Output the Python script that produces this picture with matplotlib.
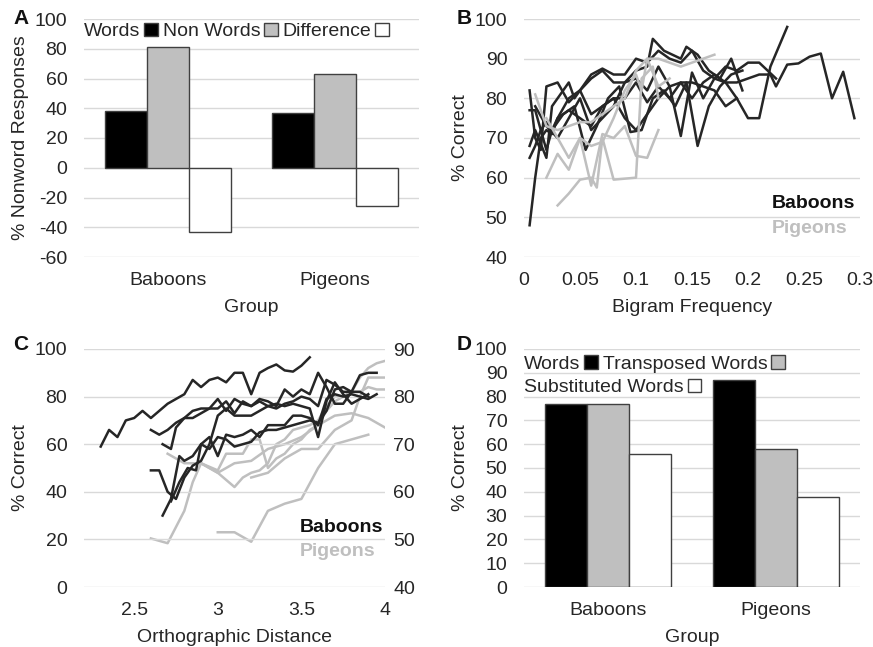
import matplotlib
matplotlib.use("Agg")
import matplotlib.pyplot as plt
from matplotlib.patches import Patch

plt.rcParams['font.family'] = ['Liberation Sans', 'DejaVu Sans']
plt.rcParams['font.size'] = 14
plt.rcParams['axes.unicode_minus'] = False

# --- data ---
groups = ['Baboons', 'Pigeons']

# panel A
a_series = ['Words', 'Non Words', 'Difference']
a_values = [[38, 37], [81, 63], [-43, -26]]

# panel D
d_series = ['Words', 'Transposed Words', 'Substituted Words']
d_values = [[77, 87], [77, 58], [56, 38]]

# panel B: bigram frequency curves
b_baboon_x = [
    [0.005, 0.01, 0.015, 0.02, 0.025, 0.03, 0.04, 0.05, 0.06, 0.07, 0.08, 0.09, 0.1, 0.11, 0.12,
     0.13, 0.14, 0.15, 0.16, 0.17, 0.18, 0.19, 0.2, 0.21, 0.22, 0.235],
    [0.005, 0.01, 0.015, 0.02, 0.03, 0.04, 0.05, 0.06, 0.07, 0.08, 0.09, 0.1, 0.11, 0.12, 0.13,
     0.14, 0.15, 0.16, 0.17, 0.18, 0.19, 0.2, 0.21, 0.22, 0.225, 0.235, 0.245, 0.255, 0.265,
     0.275, 0.285, 0.295],
    [0.005, 0.01, 0.02, 0.025, 0.03, 0.04, 0.045, 0.05, 0.06, 0.07, 0.08, 0.09, 0.1, 0.11, 0.115,
     0.125, 0.14, 0.145, 0.155, 0.165, 0.175, 0.185, 0.195],
    [0.005, 0.01, 0.02, 0.025, 0.03, 0.04, 0.05, 0.06, 0.07, 0.08, 0.09, 0.1, 0.11, 0.12, 0.13,
     0.14, 0.15, 0.16, 0.17, 0.18, 0.19, 0.2, 0.21, 0.225],
    [0.005, 0.01, 0.015, 0.02, 0.025, 0.035, 0.045, 0.055, 0.065, 0.075, 0.085, 0.095, 0.105,
     0.115, 0.125, 0.135, 0.145, 0.155, 0.165, 0.175, 0.185, 0.195],
    [0.01, 0.02, 0.03, 0.04, 0.05, 0.06, 0.07, 0.08, 0.09, 0.1, 0.11, 0.12, 0.13, 0.14, 0.15,
     0.16, 0.17, 0.18, 0.19],
]
b_baboon_y = [
    [48, 60, 70, 72, 71, 75, 77, 75, 73, 78, 80, 80, 84, 79, 83, 80, 84, 80, 84, 86, 84, 80, 75,
     75, 88, 98],
    [82, 70, 67, 83, 84, 79, 82, 86, 87.5, 86, 86, 90, 89, 92, 90, 89, 92, 87, 85, 84, 84, 85,
     86, 86, 83, 88.5, 88.8, 90.5, 91.3, 80, 86.7, 75],
    [68, 72, 65, 78, 80, 84, 80, 82, 85, 87, 84, 84, 87, 88, 95, 92, 90, 93, 91, 87, 85, 90, 82],
    [77, 77, 67, 72, 75, 80, 82, 76, 78, 80, 75, 72, 76, 80, 83, 70.5, 86.5, 80, 85, 88, 87, 89,
     89, 85],
    [65, 68, 72, 74, 72, 76, 78, 67, 73, 80, 83, 71.5, 72, 80, 82, 78, 84, 68, 78, 83, 86, 87],
    [78, 73, 70, 75, 80, 72, 75, 78, 84, 85, 82, 88, 83, 84, 84, 83, 82, 78, 80],
]
b_pigeon_x = [
    [0.01, 0.02, 0.03, 0.04, 0.05, 0.06, 0.07, 0.08, 0.09, 0.1, 0.11, 0.12, 0.13, 0.14, 0.15,
     0.16, 0.17],
    [0.02, 0.03, 0.04, 0.05, 0.06, 0.07, 0.08, 0.09, 0.1, 0.105, 0.11, 0.12, 0.13],
    [0.03, 0.04, 0.05, 0.06, 0.065, 0.07, 0.08, 0.1, 0.105, 0.115, 0.12],
    [0.02, 0.03, 0.04, 0.05, 0.06, 0.07, 0.08, 0.09, 0.1, 0.11, 0.12],
]
b_pigeon_y = [
    [81, 73, 72, 73, 74, 74, 76, 78, 80, 87, 90, 90, 89, 88, 89, 90, 91],
    [60, 66, 62, 70, 68, 69, 75, 82, 86, 82, 90, 83, 85],
    [53, 56, 59.5, 60, 57.5, 70, 59.5, 60, 85, 88, 80],
    [75, 70, 65, 70, 58, 71, 70, 73, 65.5, 65, 72],
]

# panel C: orthographic distance curves (baboons left axis, pigeons right axis)
c_baboon_x = [
    [2.3, 2.35, 2.4, 2.45, 2.5, 2.55, 2.6, 2.65, 2.7, 2.75, 2.8, 2.85, 2.9, 2.95, 3.0, 3.05, 3.1,
     3.15, 3.2, 3.25, 3.3, 3.35, 3.4, 3.45, 3.5, 3.55],
    [2.6, 2.65, 2.7, 2.75, 2.8, 2.85, 2.9, 2.95, 3.0, 3.05, 3.1, 3.15, 3.2, 3.25, 3.3, 3.35, 3.4,
     3.45, 3.5, 3.55, 3.6, 3.65, 3.7, 3.75, 3.8, 3.85, 3.9, 3.95],
    [2.67, 2.72, 2.75, 2.8, 2.85, 2.9, 2.95, 3.0, 3.05, 3.1, 3.15, 3.2, 3.25, 3.3, 3.35, 3.4,
     3.45, 3.5, 3.55, 3.6, 3.65, 3.7, 3.75, 3.8],
    [2.6, 2.65, 2.7, 2.75, 2.8, 2.85, 2.9, 2.95, 3.0, 3.05, 3.1, 3.15, 3.2, 3.25, 3.3, 3.35, 3.4,
     3.45, 3.5, 3.55, 3.6, 3.65, 3.7, 3.75, 3.8, 3.85, 3.9],
    [2.67, 2.72, 2.77, 2.8, 2.85, 2.9, 2.95, 3.0, 3.05, 3.1, 3.15, 3.2, 3.25, 3.3, 3.35, 3.4,
     3.45, 3.5, 3.55, 3.6, 3.65, 3.7, 3.75, 3.8, 3.85, 3.9, 3.95],
    [2.72, 2.77, 2.82, 2.87, 2.9, 2.95, 3.0, 3.05, 3.1, 3.15, 3.2, 3.25, 3.3, 3.35, 3.4, 3.45,
     3.5, 3.55, 3.6, 3.65, 3.7, 3.75, 3.8, 3.85, 3.9],
]
c_baboon_y = [
    [59, 66, 63, 70, 71, 74, 71, 74, 77, 79, 81, 87, 84, 87, 88, 86, 90, 90, 81, 90, 92, 93.5,
     91, 90.5, 93, 96.5],
    [66, 64, 66, 69, 71, 71, 73, 75, 75, 78, 73, 78, 76, 79, 78, 76, 83, 80, 83, 81, 90, 84, 77,
     77, 82, 89, 90, 90],
    [60, 58, 67, 71, 74, 75, 75, 79, 74, 79, 77, 76, 78, 76, 75, 77, 78, 80, 79, 76, 87, 85, 82,
     82],
    [49, 49, 40, 37, 46, 51, 53, 60, 72, 75, 72, 72, 72, 74, 76, 77, 76, 77, 76, 75, 63, 78, 86,
     81, 77, 79, 81],
    [30, 37, 55, 53, 55, 60, 63, 55, 64, 63, 64, 66, 63, 68, 68, 68, 72, 72, 71, 68, 79, 81, 80,
     81, 80, 79, 81],
    [36, 44, 50, 49, 60, 58, 63, 62, 59, 60, 61, 65, 66, 66, 67, 68, 69, 70, 69, 74, 83, 84, 82,
     82, 80],
]
c_pigeon_x = [
    [2.6, 2.7, 2.8, 2.85, 2.9, 2.95, 3.0, 3.05, 3.1, 3.15, 3.2, 3.25, 3.3, 3.35, 3.4, 3.45, 3.5,
     3.55, 3.6, 3.65, 3.7, 3.75, 3.8, 3.85, 3.9, 3.95, 4.0],
    [2.7, 2.75, 2.8, 2.85, 2.9, 3.0, 3.05, 3.1, 3.15, 3.2, 3.25, 3.3, 3.35, 3.4, 3.45, 3.5, 3.55,
     3.6, 3.65, 3.7, 3.75, 3.8, 3.85, 3.9, 3.95, 4.0],
    [3.0, 3.1, 3.2, 3.3, 3.4, 3.5, 3.6, 3.7, 3.8, 3.9],
    [2.9, 3.0, 3.1, 3.2, 3.3, 3.4, 3.5, 3.6, 3.7, 3.8, 3.9, 4.0],
    [3.2, 3.3, 3.4, 3.5, 3.6, 3.7, 3.8, 3.85, 3.9, 4.0],
]
c_pigeon_y = [
    [50.2, 49.2, 56, 62, 66, 65, 64, 62.5, 61, 63, 64, 64.5, 66, 70, 71, 73, 73.5, 74, 75, 78,
     80, 80, 81, 84, 86, 87, 87.5],
    [68, 67, 66, 66, 66, 64.5, 68, 68, 68, 71, 71, 65, 67, 68, 70, 71, 73, 74, 77, 79, 80, 81,
     81, 82, 81.5, 81.5],
    [51.5, 51.5, 49.5, 56, 57.5, 58.5, 65, 70, 71, 72],
    [66, 64, 66, 66.5, 69, 70, 71.5, 74, 76, 76.5, 75.5, 73.5],
    [63, 64, 67, 69, 69, 73, 75, 80, 84, 84],
]

# --- style ---
TEXT = '#262626'
GRID = '#D9D9D9'
DARK = '#262626'
LIGHT = '#BFBFBF'
BAR_FILLS = ['#000000', '#BFBFBF', '#FFFFFF']
BAR_EDGE = '#404040'
FS = 14

fig = plt.figure(figsize=(8.73, 6.47), dpi=100)
W, H = 873, 647


def add_ax(left, top, right, bottom):
    return fig.add_axes([left / W, 1 - bottom / H, (right - left) / W, (bottom - top) / H])


def style(ax):
    for s in ax.spines.values():
        s.set_visible(False)
    ax.yaxis.grid(True, color=GRID, linewidth=1)
    ax.set_axisbelow(True)
    ax.tick_params(axis='both', length=0, colors=TEXT, labelsize=FS)
    ax.tick_params(axis='x', pad=11)
    ax.tick_params(axis='y', pad=12)


def bar_panel(ax, values, names, ylim, yticks, ylabel):
    style(ax)
    width = 0.25
    handles = []
    for i, (vals, name) in enumerate(zip(values, names)):
        xs = [g + (i - 1) * width for g in range(len(groups))]
        ax.bar(xs, vals, width, color=BAR_FILLS[i], edgecolor=BAR_EDGE, linewidth=1)
        handles.append(Patch(facecolor=BAR_FILLS[i], edgecolor=BAR_EDGE, label=name))
    ax.set_xlim(-0.5, 1.5)
    ax.set_ylim(*ylim)
    ax.set_yticks(yticks)
    ax.set_xticks(range(len(groups)))
    ax.set_xticklabels(groups)
    ax.set_xlabel('Group', color=TEXT, fontsize=FS, labelpad=7)
    ax.set_ylabel(ylabel, color=TEXT, fontsize=FS, labelpad=4)
    return handles


leg_kw = dict(frameon=False, markerfirst=False, handlelength=0.7, handleheight=0.7,
              handletextpad=0.2, columnspacing=0.25, borderaxespad=0, borderpad=0,
              fontsize=FS, labelcolor=TEXT)

# --- panel A ---
axA = add_ax(84, 19, 419, 257)
hA = bar_panel(axA, a_values, a_series, (-60, 100), range(-60, 101, 20), '% Nonword Responses')
axA.legend(handles=hA, ncol=3, loc='upper left', bbox_to_anchor=(0.0, 0.985), **leg_kw)

# --- panel D ---
axD = add_ax(524, 349, 860, 587)
hD = bar_panel(axD, d_values, d_series, (0, 100), range(0, 101, 10), '% Correct')
legD1 = axD.legend(handles=hD[:2], ncol=2, loc='upper left', bbox_to_anchor=(0.0, 0.975),
                   **leg_kw)
axD.add_artist(legD1)
axD.legend(handles=hD[2:], loc='upper left', bbox_to_anchor=(0.0, 0.875), **leg_kw)

# --- panel B ---
axB = add_ax(524, 19, 860, 257)
style(axB)
for xs, ys in zip(b_baboon_x, b_baboon_y):
    axB.plot(xs, ys, color=DARK, linewidth=1.8)
for xs, ys in zip(b_pigeon_x, b_pigeon_y):
    axB.plot(xs, ys, color=LIGHT, linewidth=1.8)
axB.set_xlim(0, 0.3)
axB.set_ylim(40, 100)
axB.set_xticks([0, 0.05, 0.1, 0.15, 0.2, 0.25, 0.3])
axB.set_xticklabels(['0', '0.05', '0.1', '0.15', '0.2', '0.25', '0.3'])
axB.set_yticks(range(40, 101, 10))
axB.set_xlabel('Bigram Frequency', color=TEXT, fontsize=FS, labelpad=7)
axB.set_ylabel('% Correct', color=TEXT, fontsize=FS, labelpad=4)
axB.text(0.296, 53.6, 'Baboons', color='#111111', fontsize=FS, fontweight='bold',
         ha='right', va='center')
axB.text(0.289, 47.3, 'Pigeons', color=LIGHT, fontsize=FS, fontweight='bold',
         ha='right', va='center')

# --- panel C ---
axC = add_ax(84, 349, 385, 587)
style(axC)
for xs, ys in zip(c_baboon_x, c_baboon_y):
    axC.plot(xs, ys, color=DARK, linewidth=1.8, zorder=3)
axC.set_xlim(2.2, 4)
axC.set_ylim(0, 100)
axC.set_xticks([2.5, 3, 3.5, 4])
axC.set_xticklabels(['2.5', '3', '3.5', '4'])
axC.set_yticks(range(0, 101, 20))
axC.set_xlabel('Orthographic Distance', color=TEXT, fontsize=FS, labelpad=7)
axC.set_ylabel('% Correct', color=TEXT, fontsize=FS, labelpad=4)
axC.text(3.99, 24.8, 'Baboons', color='#111111', fontsize=FS, fontweight='bold',
         ha='right', va='center', zorder=5)
axC.text(3.94, 14.8, 'Pigeons', color=LIGHT, fontsize=FS, fontweight='bold',
         ha='right', va='center', zorder=5)
axC2 = axC.twinx()
for s in axC2.spines.values():
    s.set_visible(False)
for xs, ys in zip(c_pigeon_x, c_pigeon_y):
    axC2.plot(xs, ys, color=LIGHT, linewidth=1.8, zorder=1)
axC2.set_ylim(40, 90)
axC2.set_yticks(range(40, 91, 10))
axC2.tick_params(axis='y', length=0, colors=TEXT, labelsize=FS, pad=6)
axC.set_zorder(axC2.get_zorder() + 1)
axC.patch.set_visible(False)

# --- panel letters ---
for label, (px, py) in {'A': (13, 18), 'B': (457, 18), 'C': (13, 345), 'D': (457, 345)}.items():
    fig.text(px / W, 1 - py / H, label, fontsize=15, fontweight='bold', color='#111111',
             ha='left', va='center')

fig.savefig('out.png', dpi=100)
